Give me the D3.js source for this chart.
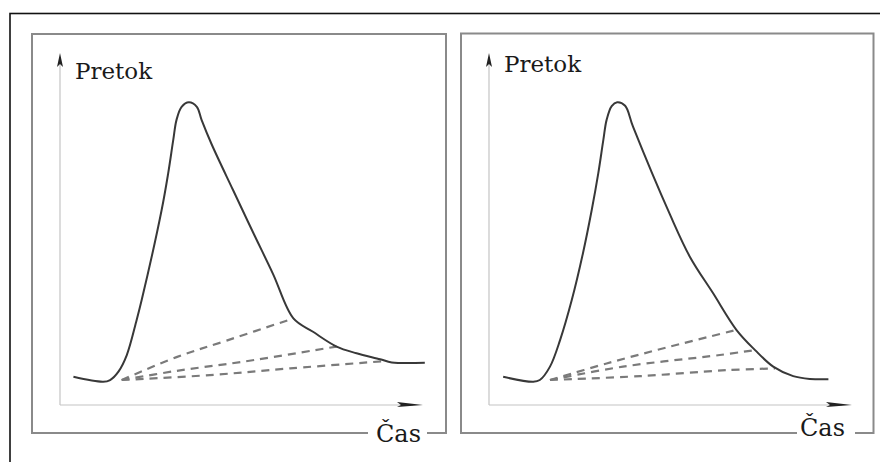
<!DOCTYPE html>
<html lang="sk">
<head>
<meta charset="utf-8">
<title>Pretok - Čas</title>
<script src="https://cdn.jsdelivr.net/npm/d3@7"></script>
<style>
  body { margin: 0; background: white; }
  svg { display: block; }
</style>
</head>
<body>
<div id="chart"></div>
<script>
// hydrogram, lavy panel (cas, pretok) v relativnych jednotkach 0-100
var leftHydro = [
  [3.7, 8.0], [11.9, 6.6], [13.8, 7.1], [16.1, 9.5], [18.4, 14.2], [21.1, 24.1],
  [22.5, 29.8], [28.0, 55.4], [29.8, 65.8], [31.2, 75.3], [32.1, 81.0], [33.5, 84.7],
  [35.5, 86.0], [37.7, 84.7], [39.0, 81.0], [41.8, 74.0], [47.7, 61.0], [53.2, 49.0],
  [58.7, 37.2], [64.3, 24.6], [69.7, 20.8], [76.2, 16.6], [81.7, 14.7],
  [88.2, 13.0], [91.4, 12.1], [100.5, 12.0]
];
// oddelenie zakladneho odtoku - lavy panel
var leftBase1 = [[17.0, 7.1], [32.1, 13.6], [45.9, 18.3], [64.3, 24.6]];
var leftBase2 = [[17.0, 7.1], [32.1, 9.7], [50.4, 12.3], [76.2, 16.6]];
var leftBase3 = [[17.0, 7.1], [41.3, 8.5], [63.4, 10.4], [90.0, 12.5]];

// pravy panel
var rightHydro = [
  [3.9, 8.0], [12.2, 6.6], [14.0, 7.1], [16.8, 10.9], [19.6, 18.5], [22.8, 29.8],
  [25.9, 43.2], [28.3, 55.4], [30.1, 65.8], [31.5, 75.3], [32.4, 81.0], [33.8, 84.9],
  [35.3, 86.0], [37.5, 85.0], [39.7, 79.0], [49.9, 54.0], [55.4, 42.0],
  [61.7, 31.8], [68.2, 21.3], [73.3, 15.6], [78.3, 10.9], [83.8, 8.2],
  [88.4, 7.4], [93.5, 7.3]
];
var rightBase1 = [[16.8, 7.1], [32.4, 11.8], [49.9, 16.6], [68.4, 21.4]];
var rightBase2 = [[16.8, 7.1], [36.9, 10.9], [63.6, 14.2], [73.3, 15.6]];
var rightBase3 = [[16.8, 7.1], [41.6, 8.2], [65.5, 9.9], [78.8, 10.4]];

var yLabel = "Pretok";
var xLabel = "Čas";

var W = 880, H = 462;
var serif = "'DejaVu Serif', 'Liberation Serif', 'Noto Serif', serif";

var svg = d3.select("#chart").append("svg")
    .attr("width", W)
    .attr("height", H);

// vonkajsi ramik (pokracuje mimo obrazok)
svg.append("rect")
    .attr("x", 10).attr("y", 13.5)
    .attr("width", 900).attr("height", 500)
    .attr("fill", "none")
    .attr("stroke", "#111")
    .attr("stroke-width", 1.6);

var x = d3.scaleLinear().domain([0, 100]).range([0, 363]);
var y = d3.scaleLinear().domain([0, 100]).range([352, 0]);

var line = d3.line()
    .x(function(d) { return x(d[0]); })
    .y(function(d) { return y(d[1]); })
    .curve(d3.curveCatmullRom.alpha(0.5));

var panels = [
  { box: [32, 34, 414, 399], ox: 60, oy: 53, hydro: leftHydro, base: [leftBase1, leftBase2, leftBase3],
    yl: [75, 79], xl: [376, 442], gap: [368, 427] },
  { box: [461, 33.5, 412.5, 399.5], ox: 489, oy: 53, hydro: rightHydro, base: [rightBase1, rightBase2, rightBase3],
    yl: [504, 72], xl: [800, 436], gap: [797, 855] }
];

panels.forEach(function(p) {
  svg.append("rect")
      .attr("x", p.box[0]).attr("y", p.box[1])
      .attr("width", p.box[2]).attr("height", p.box[3])
      .attr("fill", "none")
      .attr("stroke", "#8a8a8a")
      .attr("stroke-width", 2);

  // medzera v spodnej ciare pre popis osi
  svg.append("rect")
      .attr("x", p.gap[0]).attr("y", p.box[1] + p.box[3] - 3)
      .attr("width", p.gap[1] - p.gap[0]).attr("height", 6)
      .attr("fill", "white");

  var g = svg.append("g").attr("transform", "translate(" + p.ox + "," + p.oy + ")");

  // osi
  g.append("line")
      .attr("x1", x(0)).attr("y1", y(0))
      .attr("x2", x(100) - 10).attr("y2", y(0))
      .attr("stroke", "#c4c4c4").attr("stroke-width", 1.2);
  g.append("line")
      .attr("x1", x(0)).attr("y1", y(0))
      .attr("x2", x(0)).attr("y2", y(100) + 8)
      .attr("stroke", "#c4c4c4").attr("stroke-width", 1.2);

  // sipky
  var ax = x(100), ay = y(0);
  g.append("path")
      .attr("d", "M" + ax + "," + ay + "L" + (ax - 26) + "," + (ay - 3) + "L" + (ax - 22) + "," + ay +
                 "L" + (ax - 26) + "," + (ay + 2) + "Z")
      .attr("fill", "#222");
  var bx = x(0), by = y(100);
  g.append("path")
      .attr("d", "M" + bx + "," + by + "L" + (bx + 3) + "," + (by + 14) + "L" + bx + "," + (by + 11) +
                 "L" + (bx - 3) + "," + (by + 14) + "Z")
      .attr("fill", "#222");

  // zakladny odtok - ciarkovane
  g.selectAll(".base")
      .data(p.base)
      .enter()
      .append("path")
      .attr("class", "base")
      .attr("d", line)
      .attr("fill", "none")
      .attr("stroke", "#7a7a7a")
      .attr("stroke-width", 2.2)
      .attr("stroke-dasharray", "8,6");

  g.append("path")
      .datum(p.hydro)
      .attr("d", line)
      .attr("fill", "none")
      .attr("stroke", "#383838")
      .attr("stroke-width", 2)
      .attr("stroke-linejoin", "round");

  svg.append("text")
      .attr("x", p.yl[0]).attr("y", p.yl[1])
      .attr("font-family", serif)
      .attr("font-size", 23)
      .attr("fill", "#1a1a1a")
      .text(yLabel);
  svg.append("text")
      .attr("x", p.xl[0]).attr("y", p.xl[1])
      .attr("font-family", serif)
      .attr("font-size", 24)
      .attr("fill", "#1a1a1a")
      .text(xLabel);
});
</script>
</body>
</html>
